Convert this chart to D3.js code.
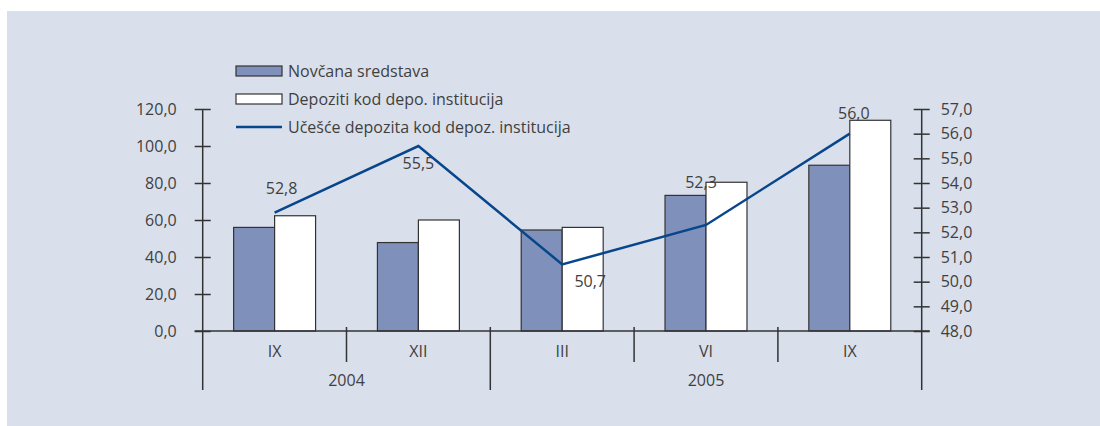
<!DOCTYPE html>
<html>
<head>
<meta charset="utf-8">
<script src="https://cdn.jsdelivr.net/npm/d3@7"></script>
<style>
  html, body { margin: 0; padding: 0; background: #fff; }
  svg text { font-family: "Open Sans", "Noto Sans", sans-serif; fill: #3f3f3f; }
</style>
</head>
<body>
<div class="svg"></div>
<script>
// chart data
var months = ['IX', 'XII', 'III', 'VI', 'IX'];
var years = ['2004', '2004', '2005', '2005', '2005'];
var novcana = [56.0, 47.8, 54.6, 73.3, 89.6];
var depoziti = [62.3, 60.0, 56.0, 80.4, 113.9];
var ucesce = [52.8, 55.5, 50.7, 52.3, 56.0];
var leftTicks = [0, 20, 40, 60, 80, 100, 120];
var rightTicks = [48, 49, 50, 51, 52, 53, 54, 55, 56, 57];
var seriesNames = ['Novčana sredstava', 'Depoziti kod depo. institucija', 'Učešće depozita kod depoz. institucija'];

// label offsets for the line values (dx, dy from point)
var labelOffsets = [[7, -25], [0, 17], [28, 17], [-5, -43], [4, -21]];

var W = 1100, H = 426;
var plotLeft = 202.7, plotRight = 921.7, plotTop = 109, plotBottom = 331;
var darkFill = '#7f91bb', lineColor = '#07468a', axisColor = '#333';
var fontSize = '16px';

var svg = d3.select('div.svg').append('svg')
  .attr('width', W)
  .attr('height', H);

svg.append('rect')
  .attr('x', 7).attr('y', 11)
  .attr('width', W - 7).attr('height', H - 11)
  .style('fill', '#dadfec');

var x = d3.scaleBand()
  .domain(d3.range(months.length))
  .range([plotLeft, plotRight])
  .paddingInner(0.43)
  .paddingOuter(0.215);
var bw = x.bandwidth();
var step = x.step();

var yL = d3.scaleLinear().domain([0, 120]).range([plotBottom, plotTop]);
var yR = d3.scaleLinear().domain([48, 57]).range([plotBottom, plotTop]);

var fmt = function (d) { return d3.format('.1f')(d).replace('.', ','); };

// left axis
var gL = svg.append('g')
  .attr('transform', 'translate(' + plotLeft + ',0)')
  .call(d3.axisLeft(yL).tickValues(leftTicks).tickFormat(fmt).tickSize(8).tickPadding(18));
gL.select('.domain').remove();
gL.selectAll('.tick line').attr('x1', 8).attr('x2', -8).style('stroke', axisColor).style('stroke-width', 1.5);
gL.selectAll('.tick text').style('font-size', fontSize).attr('font-family', null);

// right axis
var gR = svg.append('g')
  .attr('transform', 'translate(' + plotRight + ',0)')
  .call(d3.axisRight(yR).tickValues(rightTicks).tickFormat(fmt).tickSize(8).tickPadding(11));
gR.select('.domain').remove();
gR.selectAll('.tick line').attr('x1', -8).attr('x2', 8).style('stroke', axisColor).style('stroke-width', 1.5);
gR.selectAll('.tick text').style('font-size', fontSize).attr('font-family', null);
svg.selectAll('g.tick text').attr('font-family', null);
gL.attr('font-family', null).attr('font-size', null);
gR.attr('font-family', null).attr('font-size', null);

// vertical axis lines
[plotLeft, plotRight].forEach(function (px) {
  svg.append('line')
    .attr('x1', px).attr('x2', px)
    .attr('y1', plotTop).attr('y2', 390)
    .style('stroke', axisColor).style('stroke-width', 1.5);
});

// bars
var barG = svg.append('g');
barG.selectAll('rect.nov')
  .data(novcana)
  .enter()
  .append('rect')
  .attr('class', 'nov')
  .attr('x', function (d, i) { return x(i); })
  .attr('y', function (d) { return yL(d); })
  .attr('width', bw / 2)
  .attr('height', function (d) { return plotBottom - yL(d); })
  .style('fill', darkFill)
  .style('stroke', axisColor)
  .style('stroke-width', 1.2);
barG.selectAll('rect.dep')
  .data(depoziti)
  .enter()
  .append('rect')
  .attr('class', 'dep')
  .attr('x', function (d, i) { return x(i) + bw / 2; })
  .attr('y', function (d) { return yL(d); })
  .attr('width', bw / 2)
  .attr('height', function (d) { return plotBottom - yL(d); })
  .style('fill', '#fff')
  .style('stroke', axisColor)
  .style('stroke-width', 1.2);

// x axis baseline
svg.append('line')
  .attr('x1', plotLeft - 8).attr('x2', plotRight + 8)
  .attr('y1', plotBottom).attr('y2', plotBottom)
  .style('stroke', axisColor).style('stroke-width', 1.5);

// category separators
d3.range(1, months.length).forEach(function (i) {
  var bx = x(i) - step * x.paddingInner() / 2;
  var yearBreak = years[i] !== years[i - 1];
  svg.append('line')
    .attr('x1', bx).attr('x2', bx)
    .attr('y1', plotBottom - 4).attr('y2', yearBreak ? 390 : 362)
    .style('stroke', axisColor).style('stroke-width', 1.5);
});

// month labels
svg.selectAll('text.month')
  .data(months)
  .enter()
  .append('text')
  .attr('class', 'month')
  .attr('x', function (d, i) { return x(i) + bw / 2; })
  .attr('y', 357)
  .attr('text-anchor', 'middle')
  .style('font-size', fontSize)
  .text(function (d) { return d; });

// year labels, centred over their months
var yearList = Array.from(new Set(years));
svg.selectAll('text.year')
  .data(yearList)
  .enter()
  .append('text')
  .attr('class', 'year')
  .attr('x', function (yr) {
    var idx = d3.range(years.length).filter(function (i) { return years[i] === yr; });
    var a = x(idx[0]) - step * x.paddingInner() / 2;
    var b = x(idx[idx.length - 1]) + bw + step * x.paddingInner() / 2;
    return (Math.max(a, plotLeft) + Math.min(b, plotRight)) / 2;
  })
  .attr('y', 386)
  .attr('text-anchor', 'middle')
  .style('font-size', fontSize)
  .text(function (d) { return d; });

// line
var line = d3.line()
  .x(function (d, i) { return x(i) + bw / 2; })
  .y(function (d) { return yR(d); });
svg.append('path')
  .datum(ucesce)
  .attr('d', line)
  .style('fill', 'none')
  .style('stroke', lineColor)
  .style('stroke-width', 2.5);

svg.selectAll('text.val')
  .data(ucesce)
  .enter()
  .append('text')
  .attr('class', 'val')
  .attr('x', function (d, i) { return x(i) + bw / 2 + labelOffsets[i][0]; })
  .attr('y', function (d, i) { return yR(d) + labelOffsets[i][1] + 6; })
  .attr('text-anchor', 'middle')
  .style('font-size', fontSize)
  .text(function (d) { return fmt(d); });

// legend
var leg = svg.append('g').attr('transform', 'translate(236,0)');
var rowsY = [71, 99, 127];
leg.append('rect').attr('x', 0).attr('y', rowsY[0] - 5).attr('width', 46).attr('height', 10)
  .style('fill', darkFill).style('stroke', axisColor).style('stroke-width', 1.2);
leg.append('rect').attr('x', 0).attr('y', rowsY[1] - 5).attr('width', 46).attr('height', 10)
  .style('fill', '#fff').style('stroke', axisColor).style('stroke-width', 1.2);
leg.append('line').attr('x1', 0).attr('x2', 46).attr('y1', rowsY[2]).attr('y2', rowsY[2])
  .style('stroke', lineColor).style('stroke-width', 2.5);
leg.selectAll('text')
  .data(seriesNames)
  .enter()
  .append('text')
  .attr('x', 52)
  .attr('y', function (d, i) { return rowsY[i] + 6; })
  .style('font-size', fontSize)
  .text(function (d) { return d; });
</script>
</body>
</html>
